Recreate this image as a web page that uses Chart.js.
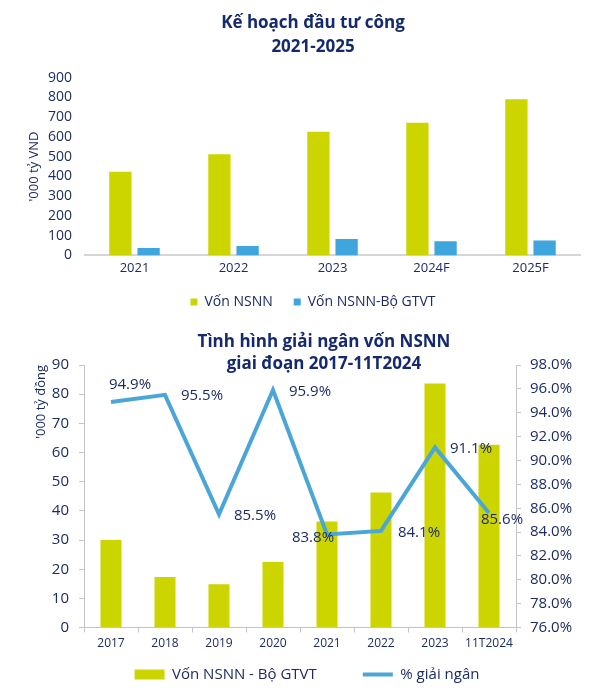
<!DOCTYPE html>
<html lang="vi">
<head>
<meta charset="utf-8">
<title>Kế hoạch đầu tư công</title>
<script src="https://cdn.jsdelivr.net/npm/chart.js@4.4.1/dist/chart.umd.min.js"></script>
<style>
    html, body { margin: 0; padding: 0; background: #fff; }
    .wrap { position: relative; width: 600px; height: 692px; }
    .box { position: absolute; left: 0; width: 600px; }
    #box1 { top: 0; height: 320px; }
    #box2 { top: 320px; height: 372px; }
</style>
</head>
<body>
<div class="wrap">
    <div class="box" id="box1"><canvas id="planChart"></canvas></div>
    <div class="box" id="box2"><canvas id="disburseChart"></canvas></div>
</div>
<script>
(function() {
    'use strict';

    // ===== Data =====
    const planYears = ['2021', '2022', '2023', '2024F', '2025F'];
    const planNsnn = [424, 512, 626, 671, 791];
    const planGtvt = [38, 47, 83, 71, 76];
    const planTicks = [0, 100, 200, 300, 400, 500, 600, 700, 800, 900];

    const years = ['2017', '2018', '2019', '2020', '2021', '2022', '2023', '11T2024'];
    const disbursed = [30, 17.3, 14.9, 22.5, 36.4, 46.3, 83.7, 62.7];
    const disbursedPct = [94.9, 95.5, 85.5, 95.9, 83.8, 84.1, 91.1, 85.6];
    const leftTicks = [0, 10, 20, 30, 40, 50, 60, 70, 80, 90];
    const rightTicks = [76, 78, 80, 82, 84, 86, 88, 90, 92, 94, 96, 98];

    const title2 = ['Tình hình giải ngân vốn NSNN', 'giai đoạn 2017-11T2024'];

    // label offsets (px) from each line point
    const labelOffsets = [[19, -17], [37, 1], [36, 2], [37, 2], [-14, 3], [38, 2], [36, 1], [13, 7]];

    // ===== Style =====
    const GREEN = '#cdd500';
    const BLUE = '#3ea5dd';
    const LINE = '#4aa6d6';
    const NAVY = '#1d2b63';
    const TITLE = '#14296e';
    const AXIS = '#c4c4c4';
    const FONT = "'Open Sans', sans-serif";

    Chart.defaults.font.family = FONT;
    Chart.defaults.color = NAVY;

    function fixTicks(list) {
        return function(scale) {
            scale.ticks = list.map(v => ({ value: v }));
        };
    }

    // empty legend title with negative padding: lets the legend row sit
    // closer to the x labels than labels.padding would allow
    function legendLift(px) {
        return { display: true, text: '', font: { size: 10 }, padding: { top: -(12 + px), bottom: 0 } };
    }

    // ===== Chart 1: Kế hoạch đầu tư công =====
    new Chart(document.getElementById('planChart'), {
        type: 'bar',
        data: {
            labels: planYears,
            datasets: [{
                label: 'Vốn NSNN',
                data: planNsnn,
                backgroundColor: GREEN,
                categoryPercentage: 0.57,
                barPercentage: 0.79
            }, {
                label: 'Vốn NSNN-Bộ GTVT',
                data: planGtvt,
                backgroundColor: BLUE,
                categoryPercentage: 0.57,
                barPercentage: 0.79
            }]
        },
        options: {
            responsive: true,
            maintainAspectRatio: false,
            animation: false,
            layout: { padding: { left: 46, right: 20, top: 0, bottom: 1 } },
            plugins: {
                title: {
                    display: true,
                    text: ['Kế hoạch đầu tư công', '2021-2025'],
                    color: TITLE,
                    font: { size: 17, weight: 'bold', lineHeight: 1.4 },
                    padding: { top: 11, bottom: 19 }
                },
                legend: {
                    position: 'bottom',
                    title: legendLift(7),
                    labels: { boxWidth: 7, boxHeight: 7, padding: 21, color: NAVY, font: { size: 14 } }
                },
                tooltip: { enabled: false }
            },
            scales: {
                x: {
                    grid: { display: false, drawTicks: false },
                    border: { display: true, color: '#d6d6d6', width: 2 },
                    ticks: { color: NAVY, font: { size: 13 }, padding: 5 }
                },
                y: {
                    min: 0,
                    max: 900,
                    afterBuildTicks: fixTicks(planTicks),
                    grid: { display: false, drawTicks: false },
                    border: { display: false },
                    ticks: { color: NAVY, font: { size: 14 }, padding: 13, autoSkip: false },
                    title: {
                        display: true,
                        text: "'000 tỷ VND",
                        color: NAVY,
                        font: { size: 13 },
                        padding: { top: -20, bottom: 0 }
                    },
                    afterFit: function(scale) { scale.width = 39; }
                }
            }
        }
    });

    // ===== Chart 2: Tình hình giải ngân =====
    const topTitle = {
        id: 'topTitle',
        afterDraw(chart) {
            const ctx = chart.ctx;
            ctx.save();
            ctx.font = 'bold 17px ' + FONT;
            ctx.fillStyle = TITLE;
            ctx.textAlign = 'center';
            ctx.textBaseline = 'middle';
            ctx.fillText(title2[0], 324, 22);
            ctx.fillText(title2[1], 324, 44);
            ctx.restore();
        }
    };

    const lineLabels = {
        id: 'lineLabels',
        afterDatasetsDraw(chart) {
            const meta = chart.getDatasetMeta(0);
            const ctx = chart.ctx;
            ctx.save();
            ctx.font = '15px ' + FONT;
            ctx.fillStyle = NAVY;
            ctx.textAlign = 'center';
            ctx.textBaseline = 'middle';
            meta.data.forEach((pt, i) => {
                const off = labelOffsets[i];
                ctx.fillText(disbursedPct[i].toFixed(1) + '%', pt.x + off[0], pt.y + off[1]);
            });
            ctx.restore();
        }
    };

    const axisGrid = { display: true, drawOnChartArea: false, drawTicks: true, tickLength: 5, color: AXIS };

    new Chart(document.getElementById('disburseChart'), {
        data: {
            labels: years,
            datasets: [{
                type: 'line',
                label: '% giải ngân',
                data: disbursedPct,
                yAxisID: 'y1',
                borderColor: LINE,
                backgroundColor: LINE,
                borderWidth: 4,
                pointRadius: 0,
                pointStyle: 'line',
                tension: 0,
                order: 0
            }, {
                type: 'bar',
                label: 'Vốn NSNN - Bộ GTVT',
                data: disbursed,
                yAxisID: 'y',
                backgroundColor: GREEN,
                pointStyle: 'rect',
                barPercentage: 0.39,
                categoryPercentage: 1,
                order: 1
            }]
        },
        options: {
            responsive: true,
            maintainAspectRatio: false,
            animation: false,
            layout: { padding: { left: 14, right: 0, top: 45, bottom: 0 } },
            plugins: {
                legend: {
                    position: 'bottom',
                    reverse: true,
                    title: legendLift(34),
                    labels: {
                        usePointStyle: true,
                        pointStyleWidth: 30,
                        boxHeight: 10,
                        padding: 46,
                        color: NAVY,
                        font: { size: 15 }
                    }
                },
                tooltip: { enabled: false }
            },
            scales: {
                x: {
                    grid: Object.assign({ offset: true }, axisGrid),
                    border: { color: AXIS },
                    ticks: { color: NAVY, font: { size: 12 }, padding: 4, autoSkip: false, maxRotation: 0 }
                },
                y: {
                    position: 'left',
                    min: 0,
                    max: 90,
                    afterBuildTicks: fixTicks(leftTicks),
                    grid: axisGrid,
                    border: { color: AXIS },
                    ticks: { color: NAVY, font: { size: 15 }, padding: 10, autoSkip: false },
                    title: {
                        display: true,
                        text: "'000 tỷ đồng",
                        align: 'end',
                        color: NAVY,
                        font: { size: 13 },
                        padding: { top: 19, bottom: 0 }
                    },
                    afterFit: function(scale) { scale.width = 70; }
                },
                y1: {
                    position: 'right',
                    min: 76,
                    max: 98,
                    afterBuildTicks: fixTicks(rightTicks),
                    grid: axisGrid,
                    border: { color: AXIS },
                    ticks: {
                        color: NAVY,
                        font: { size: 15 },
                        padding: 9,
                        autoSkip: false,
                        callback: v => v.toFixed(1) + '%'
                    },
                    afterFit: function(scale) { scale.width = 84; }
                }
            }
        },
        plugins: [topTitle, lineLabels]
    });

})();
</script>
</body>
</html>
